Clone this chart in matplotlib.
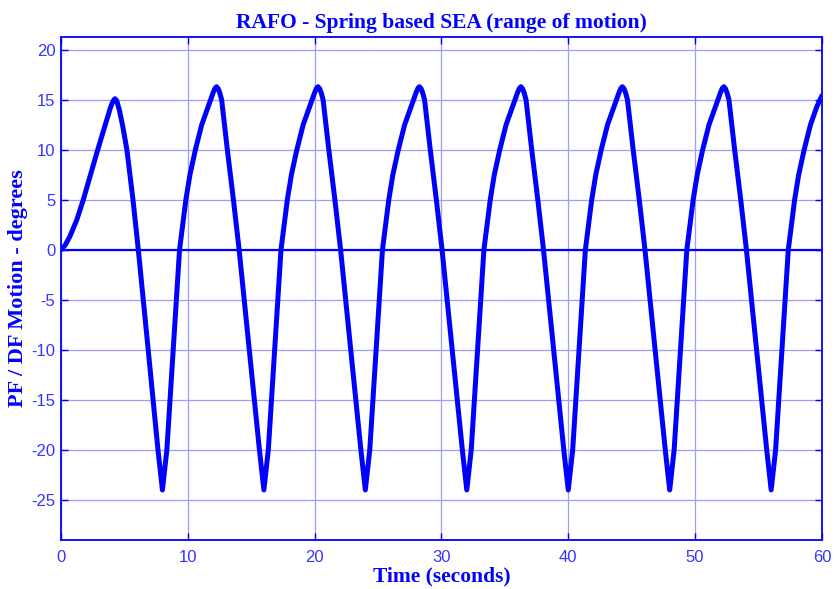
# -*- coding: utf-8 -*-
"""
RAFO - Spring based SEA (range of motion)
"""

import matplotlib.pyplot as plt

plt.rcParams["axes.unicode_minus"] = False

# Datos (tiempo en s, angulo en grados)
tiempo = [
    0, 0.35, 0.7, 1.25, 1.76, 2.33, 2.9, 3.5, 3.9, 4.12, 4.26, 4.4, 4.6, 4.85, 5.2, 5.68, 6.1, 6.88, 7.65,
    8, 8.35, 8.85, 9.35, 9.85, 10.17, 10.6, 11.1, 11.8, 12.0, 12.15, 12.27, 12.4, 12.52, 12.67, 13.12, 13.6, 14.05, 14.85, 15.65,
    16, 16.35, 16.85, 17.35, 17.85, 18.17, 18.6, 19.1, 19.8, 20.0, 20.15, 20.27, 20.4, 20.52, 20.67, 21.12, 21.6, 22.05, 22.85, 23.65,
    24, 24.35, 24.85, 25.35, 25.85, 26.17, 26.6, 27.1, 27.8, 28.0, 28.15, 28.27, 28.4, 28.52, 28.67, 29.12, 29.6, 30.05, 30.85, 31.65,
    32, 32.35, 32.85, 33.35, 33.85, 34.17, 34.6, 35.1, 35.8, 36.0, 36.15, 36.27, 36.4, 36.52, 36.67, 37.12, 37.6, 38.05, 38.85, 39.65,
    40, 40.35, 40.85, 41.35, 41.85, 42.17, 42.6, 43.1, 43.8, 44.0, 44.15, 44.27, 44.4, 44.52, 44.67, 45.12, 45.6, 46.05, 46.85, 47.65,
    48, 48.35, 48.85, 49.35, 49.85, 50.17, 50.6, 51.1, 51.8, 52.0, 52.15, 52.27, 52.4, 52.52, 52.67, 53.12, 53.6, 54.05, 54.85, 55.65,
    56, 56.35, 56.85, 57.35, 57.85, 58.17, 58.6, 59.1, 59.6, 60,
]

angulo = [
    0, 0.5, 1.33, 3, 5, 7.5, 10, 12.5, 14.2, 14.9, 15.1, 14.9, 14.0, 12.5, 10, 5, 0, -10, -20,
    -24, -20, -10, 0, 5, 7.5, 10, 12.5, 15, 15.7, 16.15, 16.3, 16.1, 15.7, 15, 10, 5, 0, -10, -20,
    -24, -20, -10, 0, 5, 7.5, 10, 12.5, 15, 15.7, 16.15, 16.3, 16.1, 15.7, 15, 10, 5, 0, -10, -20,
    -24, -20, -10, 0, 5, 7.5, 10, 12.5, 15, 15.7, 16.15, 16.3, 16.1, 15.7, 15, 10, 5, 0, -10, -20,
    -24, -20, -10, 0, 5, 7.5, 10, 12.5, 15, 15.7, 16.15, 16.3, 16.1, 15.7, 15, 10, 5, 0, -10, -20,
    -24, -20, -10, 0, 5, 7.5, 10, 12.5, 15, 15.7, 16.15, 16.3, 16.1, 15.7, 15, 10, 5, 0, -10, -20,
    -24, -20, -10, 0, 5, 7.5, 10, 12.5, 15, 15.7, 16.15, 16.3, 16.1, 15.7, 15, 10, 5, 0, -10, -20,
    -24, -20, -10, 0, 5, 7.5, 10, 12.5, 14.3, 15.4,
]

xticks = [0, 10, 20, 30, 40, 50, 60]
yticks = [-25, -20, -15, -10, -5, 0, 5, 10, 15, 20]

azul = "#0000ff"
azul_texto = "#3535ff"
azul_grid = "#9d9dff"

fig = plt.figure(figsize=(8.35, 5.89), dpi=100)
ax = fig.add_axes([0.073, 0.0832, 0.9113, 0.8545])

ax.grid(True, color=azul_grid, linewidth=0.9)
ax.set_axisbelow(True)
ax.axhline(0, color=azul, linewidth=1.6, zorder=2)
ax.plot(tiempo, angulo, color=azul, linewidth=3.6,
        solid_joinstyle="round", solid_capstyle="round", zorder=3)

ax.set_xlim(0, 60)
ax.set_ylim(-29.0, 21.3)
ax.set_xticks(xticks)
ax.set_yticks(yticks)

for s in ax.spines.values():
    s.set_color(azul)
    s.set_linewidth(1.3)

ax.tick_params(direction="in", top=True, right=True, length=5, width=1,
               colors=azul, labelcolor=azul_texto, labelsize=12)
ax.tick_params(axis="y", pad=4)
ax.tick_params(axis="x", pad=7)
for lab in ax.get_xticklabels() + ax.get_yticklabels():
    lab.set_family("Liberation Sans")

ax.set_title("RAFO - Spring based SEA (range of motion)", color=azul,
             family="Liberation Serif", fontweight="bold", fontsize=15.5, pad=6)
ax.set_xlabel("Time (seconds)", color=azul, family="Liberation Serif",
              fontweight="bold", fontsize=15.5, labelpad=1)
ax.set_ylabel("PF / DF Motion - degrees", color=azul, family="Liberation Serif",
              fontweight="bold", fontsize=16, labelpad=2)

fig.savefig("out.png", dpi=100)
